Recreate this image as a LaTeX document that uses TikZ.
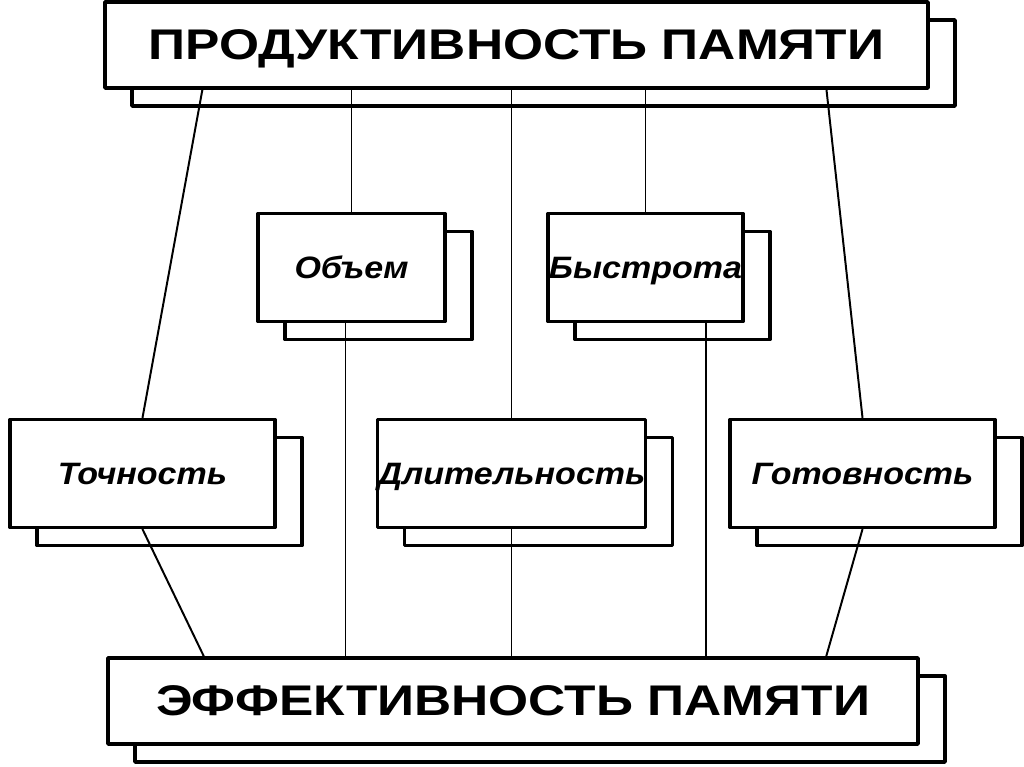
\documentclass[tikz,border=0pt]{standalone}
\usepackage{fontspec}
\setmainfont{Liberation Sans}
\newfontfamily\widefont[FakeStretch=1.2]{Liberation Sans}
\newfontfamily\labelfont[FakeStretch=1.1]{Liberation Sans}
\usetikzlibrary{calc,shadows}

\begin{document}
\begin{tikzpicture}[x=0.025cm,y=-0.025cm,line cap=round,line join=round]
  \tikzset{
    box/.style={draw=black,line width=2.4pt,fill=white,inner sep=0pt,text depth=0pt,
      copy shadow={shadow xshift=0.675cm,shadow yshift=-0.45cm,draw=black,fill=white,line width=2.4pt}},
    mainbox/.style={box,minimum height=2.15cm,font=\widefont\bfseries\fontsize{30.5}{32}\selectfont},
    partbox/.style={box,minimum height=2.7cm,font=\labelfont\bfseries\itshape\fontsize{22}{24}\selectfont},
    link/.style={line width=1.4pt}
  }
  \useasboundingbox (0,0) rectangle (1024,767);
  % top and bottom
  \node[mainbox,minimum width=20.575cm] (prod) at (516.5,45) {ПРОДУКТИВНОСТЬ ПАМЯТИ};
  \node[mainbox,minimum width=20.25cm] (eff) at (513,701) {ЭФФЕКТИВНОСТЬ ПАМЯТИ};
  % middle row
  \node[partbox,minimum width=4.675cm] (obem) at (351.5,267.5) {Объем};
  \node[partbox,minimum width=4.875cm] (bystr) at (645.5,267.5) {Быстрота};
  % lower row
  \node[partbox,minimum width=6.625cm] (tochn) at (142.5,473.5) {Точность};
  \node[partbox,minimum width=6.575cm] (dlit) at (511.5,473.5) {Длительность};
  \node[partbox,minimum width=6.625cm] (gotov) at (862.5,473.5) {Готовность};
  % links from the top
  \draw[link] ($(prod.south west)!0.12!(prod.south east)$) -- (tochn.north);
  \draw[link] (obem.north |- prod.south) -- (obem.north);
  \draw[link] (dlit.north |- prod.south) -- (dlit.north);
  \draw[link] (bystr.north |- prod.south) -- (bystr.north);
  \draw[link] ($(prod.south west)!0.875!(prod.south east)$) -- (gotov.north);
  % links to the bottom
  \draw[link] (tochn.south) -- ($(eff.north west)!0.12!(eff.north east)$);
  \draw[link] ([xshift=-0.15cm]obem.south) -- ([xshift=-0.15cm]obem.south |- eff.north);
  \draw[link] (dlit.south) -- (dlit.south |- eff.north);
  \draw[link] ([xshift=1.5cm]bystr.south) -- ([xshift=1.5cm]bystr.south |- eff.north);
  \draw[link] (gotov.south) -- ($(eff.north west)!0.885!(eff.north east)$);
\end{tikzpicture}
\end{document}
